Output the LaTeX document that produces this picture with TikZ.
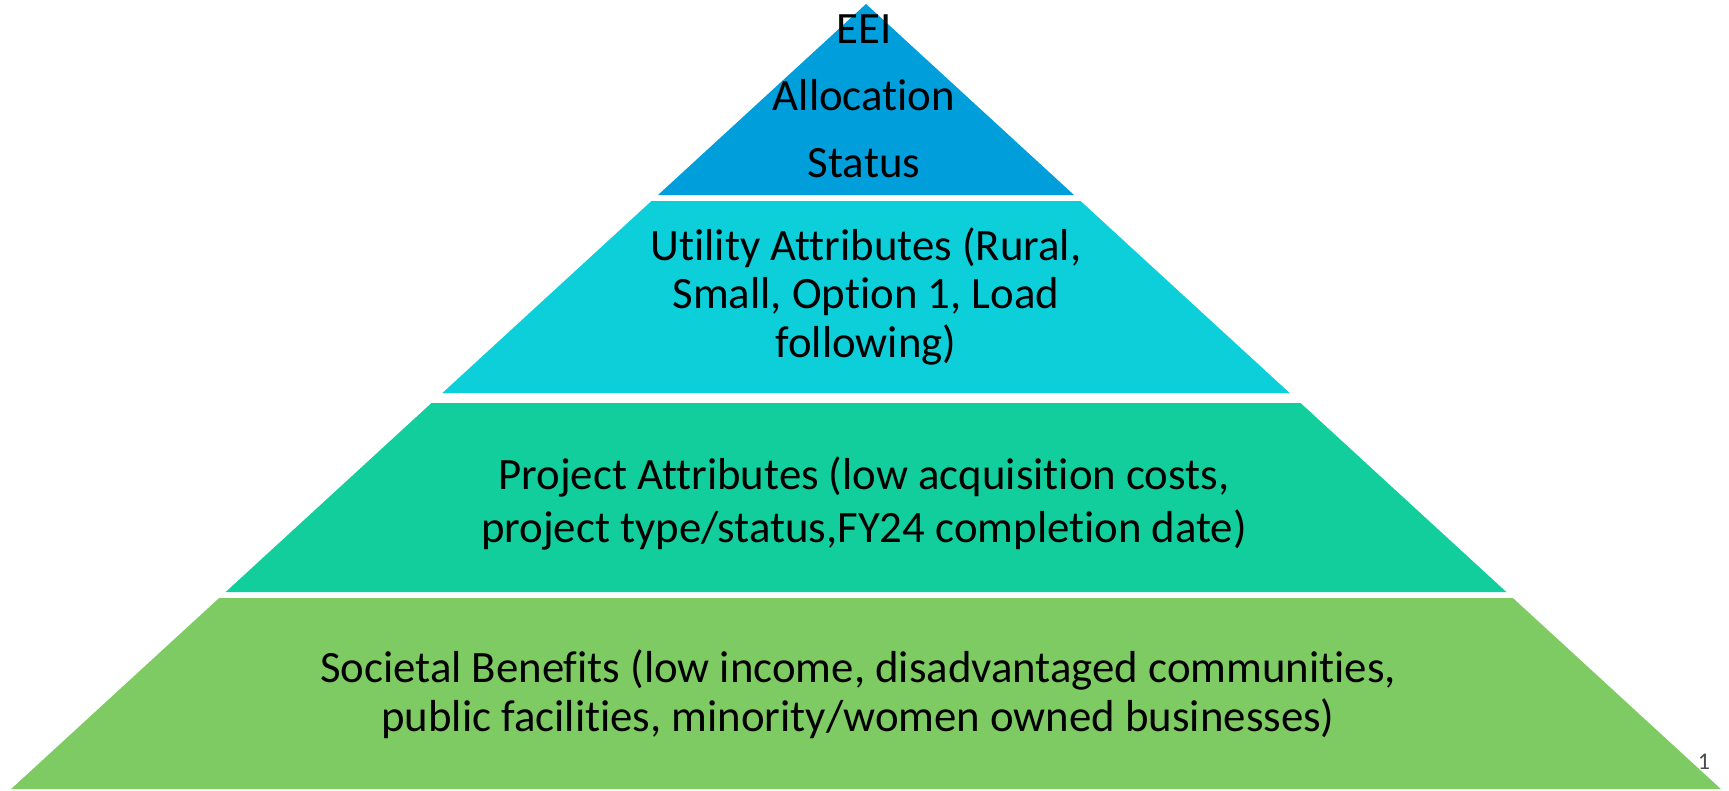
\documentclass[tikz,border=0pt]{standalone}
\usepackage{fontspec}
\setmainfont{Carlito}[Ligatures={NoCommon}]
\definecolor{lvltop}{RGB}{0,158,218}
\definecolor{lvlutil}{RGB}{13,207,218}
\definecolor{lvlproj}{RGB}{17,206,156}
\definecolor{lvlsoc}{RGB}{125,203,98}
\begin{document}
\begin{tikzpicture}[x=1pt, y=-1pt, line join=round,
  lvltext/.style={align=center, inner sep=0pt, text=black, font=\fontsize{44.8}{49}\selectfont}]
\def\ax{866} \def\ay{4} \def\k{1.089} % apex and slope
\useasboundingbox (0,0) rectangle (1729,790);
\fill[lvltop] (\ax,\ay)--({\ax+\k*(195-\ay)},195)--({\ax-\k*(195-\ay)},195)--cycle;
\foreach \t/\b/\c in {201/393/lvlutil, 403/592/lvlproj, 598/789/lvlsoc}
  \fill[\c] ({\ax-\k*(\t-\ay)},\t)--({\ax+\k*(\t-\ay)},\t)
    --({\ax+\k*(\b-\ay)},\b)--({\ax-\k*(\b-\ay)},\b)--cycle;
\node[lvltext, font=\fontsize{44.8}{67}\selectfont] (eei) at (864,96) {EEI\\Allocation\\Status};
\node[lvltext, font=\fontsize{44.8}{48.5}\selectfont] (util) at (866,296) {Utility Attributes (Rural,\\Small, Option 1, Load\\following)};
\node[lvltext, font=\fontsize{44.8}{53}\selectfont] (proj) at (864,503) {Project Attributes (low acquisition costs,\\project type/status,FY24 completion date)};
\node[lvltext] (soc) at (858,694) {Societal Benefits (low income, disadvantaged communities,\\public facilities, minority/women owned businesses)};
\node[text=black!70, font=\fontsize{24}{24}\selectfont] (pgno) at (1704,762) {1};
\end{tikzpicture}
\end{document}
